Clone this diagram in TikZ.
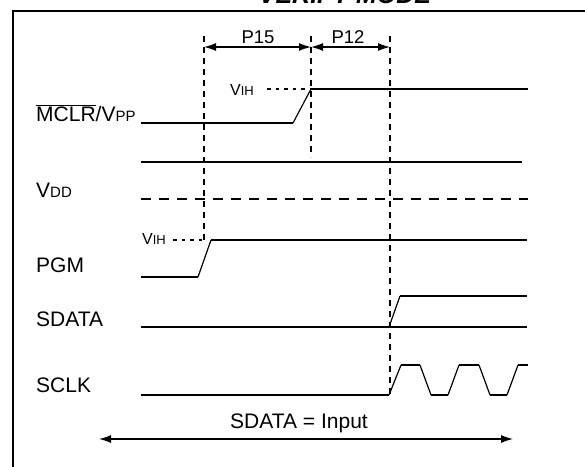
\documentclass[tikz,border=0pt]{standalone}
\usepackage{fontspec}
\setmainfont{Liberation Sans}
\usetikzlibrary{arrows.meta}
\newcommand\lowsub[1]{{\fontsize{15}{15}\selectfont #1}}
\newcommand\vihsub[1]{{\fontsize{13}{13}\selectfont #1}}
\begin{document}
\begin{tikzpicture}[x=1pt,y=-1pt,
  sig/.style={line width=1.8pt},
  ramp/.style={line width=1.2pt},
  vdash/.style={line width=1.8pt,dash pattern=on 6pt off 5pt},
  hdash/.style={line width=1.8pt,dash pattern=on 10pt off 8pt},
  dotln/.style={line width=1.3pt,dash pattern=on 3.5pt off 5pt},
  dimarrow/.style={line width=1.2pt,{Latex[length=12pt,width=8pt]}-{Latex[length=12pt,width=8pt]}},
  lbl/.style={anchor=base west,inner sep=0pt,font=\fontsize{21}{21}\selectfont},
  plbl/.style={anchor=base,inner sep=0pt,font=\fontsize{18.5}{18.5}\selectfont},
  vih/.style={anchor=base west,inner sep=0pt,font=\fontsize{16}{16}\selectfont}]
\useasboundingbox (0,0) rectangle (585,466);
\clip (0,0) rectangle (585,466);
% title and frame
\node[anchor=base,inner sep=0pt,font=\fontsize{25}{25}\selectfont\bfseries\itshape] (title) at (345,3) {VERIFY MODE};
\coordinate (fTL) at (13,11);
\coordinate (fTR) at (590,11);
\coordinate (fBL) at (13,470);
\draw[line width=2pt] (fTR) -- (fTL) -- (fBL);
% vertical timing markers
\coordinate (d1t) at (204,36); \coordinate (d1b) at (204,240);
\coordinate (d2t) at (311,36); \coordinate (d2b) at (311,157);
\coordinate (d3t) at (390,36); \coordinate (d3b) at (390,395);
\draw[vdash] (d1t) -- (d1b);
\draw[vdash] (d2t) -- (d2b);
\draw[vdash] (d3t) -- (d3b);
% P15 / P12
\coordinate (a1) at (204,47); \coordinate (a2) at (311,47); \coordinate (a3) at (390,47);
\draw[dimarrow] (a1) -- (a2);
\draw[dimarrow] (a2) -- (a3);
\node[plbl] (p15) at (258,43) {P15};
\node[plbl] (p12) at (348,43) {P12};
% MCLR/VPP
\node[lbl] (mclr) at (36,121) {$\overline{\mbox{MCLR}}$/V\lowsub{PP}};
\coordinate (m0) at (141,123); \coordinate (m1) at (293,123);
\coordinate (m2) at (311,89); \coordinate (m3) at (528,89);
\draw[sig] (m0) -- (m1);
\draw[ramp] (m1) -- (m2);
\draw[sig] (m2) -- (m3);
\node[vih] (vih1) at (230,95) {V\vihsub{IH}};
\coordinate (v1s) at (267,89);
\draw[dotln] (v1s) -- (m2);
% VDD
\coordinate (s0) at (141,162); \coordinate (s1) at (522,162);
\draw[sig] (s0) -- (s1);
\node[lbl] (vdd) at (36,197) {V\lowsub{DD}};
\coordinate (h0) at (141,199); \coordinate (h1) at (528,199);
\draw[hdash] (h0) -- (h1);
% PGM
\node[lbl] (pgm) at (36,272) {PGM};
\coordinate (g0) at (141,277); \coordinate (g1) at (198,277);
\coordinate (g2) at (211,240); \coordinate (g3) at (527,240);
\draw[sig] (g0) -- (g1);
\draw[ramp] (g1) -- (g2);
\draw[sig] (g2) -- (g3);
\node[vih] (vih2) at (142,244) {V\vihsub{IH}};
\coordinate (v2s) at (173,240);
\draw[dotln] (v2s) -- (d1b);
% SDATA
\node[lbl] (sdata) at (36,326) {SDATA};
\coordinate (q0) at (141,327); \coordinate (q1) at (527,327);
\coordinate (q2) at (389,327); \coordinate (q3) at (400,296); \coordinate (q4) at (527,296);
\draw[sig] (q0) -- (q1);
\draw[ramp] (q2) -- (q3);
\draw[sig] (q3) -- (q4);
% SCLK
\node[lbl] (sclk) at (36,392) {SCLK};
\coordinate (c0) at (141,395);
\draw[sig] (c0) -- (389,395);
\draw[ramp] (389,395) -- (401,365);
\draw[sig] (401,365) -- (420,365);
\draw[ramp] (420,365) -- (431,395);
\draw[sig] (431,395) -- (448,395);
\draw[ramp] (448,395) -- (459,365);
\draw[sig] (459,365) -- (479,365);
\draw[ramp] (479,365) -- (490,395);
\draw[sig] (490,395) -- (507,395);
\draw[ramp] (507,395) -- (518,365);
\draw[sig] (518,365) -- (528,365);
% SDATA = Input
\node[plbl,font=\fontsize{21}{21}\selectfont] (inp) at (299,428) {SDATA = Input};
\coordinate (i0) at (99,439); \coordinate (i1) at (513,439);
\draw[dimarrow] (i0) -- (i1);
\end{tikzpicture}
\end{document}
